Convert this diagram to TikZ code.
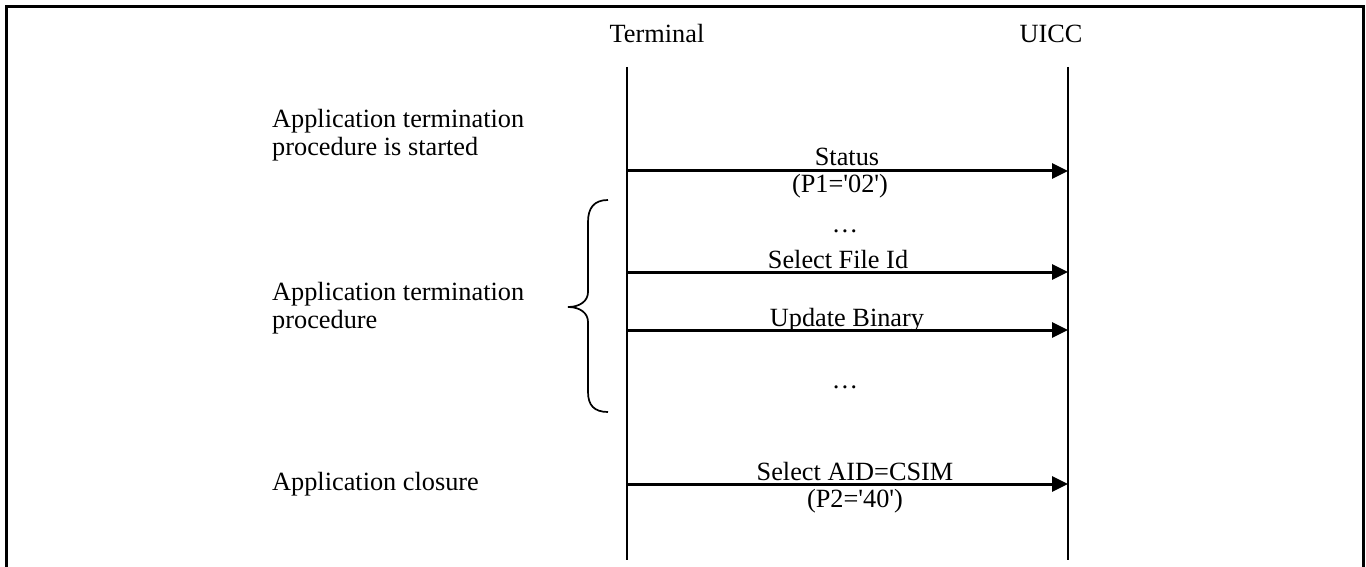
\documentclass[tikz,border=0pt]{standalone}
\usepackage{fontspec}
\setmainfont{Liberation Serif}
\usetikzlibrary{arrows.meta}
\newcommand{\sq}{\textquotesingle}
\begin{document}
\begin{tikzpicture}[x=1bp,y=-1bp,
  frameline/.style={line width=3bp,line cap=butt},
  lifeline/.style={line width=1.6bp},
  msg/.style={line width=3bp,-{Triangle[length=16bp,width=15bp]}},
  bracepath/.style={line width=1.7bp},
  lbl/.style={inner sep=0pt,anchor=base,font=\fontsize{26.3bp}{28bp}\selectfont},
  side/.style={inner sep=0pt,align=left,font=\fontsize{26.3bp}{28bp}\selectfont}]
\useasboundingbox (0,0) rectangle (1366,567);
% frame
\draw[frameline] (6,567) -- (6,7) -- (1363.5,7) -- (1363.5,567);
% headers
\node[lbl] (term) at (657,43) {Terminal};
\node[lbl] (uicc) at (1051,43) {UICC};
% lifelines
\coordinate (Ttop) at (627,67);
\coordinate (Tbot) at (627,560);
\coordinate (Utop) at (1068,67);
\coordinate (Ubot) at (1068,560);
\draw[lifeline] (Ttop) -- (Tbot);
\draw[lifeline] (Utop) -- (Ubot);
% side texts
\node[side,anchor=north west] (s1) at (272,109) {Application termination\\procedure is started};
\node[side,anchor=north west] (s2) at (272,282) {Application termination\\procedure};
\node[lbl,anchor=base west] (s3) at (272,490) {Application closure};
% brace
\draw[bracepath] (608,200) .. controls (594,200) and (588,208) .. (588,222)
  -- (588,292) .. controls (588,301) and (580,307) .. (568,307)
  .. controls (580,307) and (588,313) .. (588,322)
  -- (588,392) .. controls (588,405) and (594,412) .. (608,412);
% messages
\coordinate (t1) at (627,171); \coordinate (u1) at (1068,171);
\coordinate (t2) at (627,272); \coordinate (u2) at (1068,272);
\coordinate (t3) at (627,330); \coordinate (u3) at (1068,330);
\coordinate (t4) at (627,484); \coordinate (u4) at (1068,484);
\draw[msg] (t1) -- (u1);
\draw[msg] (t2) -- (u2);
\draw[msg] (t3) -- (u3);
\draw[msg] (t4) -- (u4);
\node[lbl] (m1) at (847,166) {Status};
\node[lbl] (m1b) at (840,193) {(P1=\sq02\sq)};
\node[lbl] (d1) at (845,232) {…};
\node[lbl] (m2) at (838,268) {Select File Id};
\node[lbl] (m3) at (847,326) {Update Binary};
\node[lbl] (d2) at (845,388) {…};
\node[lbl] (m4) at (855,480) {Select AID=CSIM};
\node[lbl] (m4b) at (855,507) {(P2=\sq40\sq)};
\end{tikzpicture}
\end{document}
